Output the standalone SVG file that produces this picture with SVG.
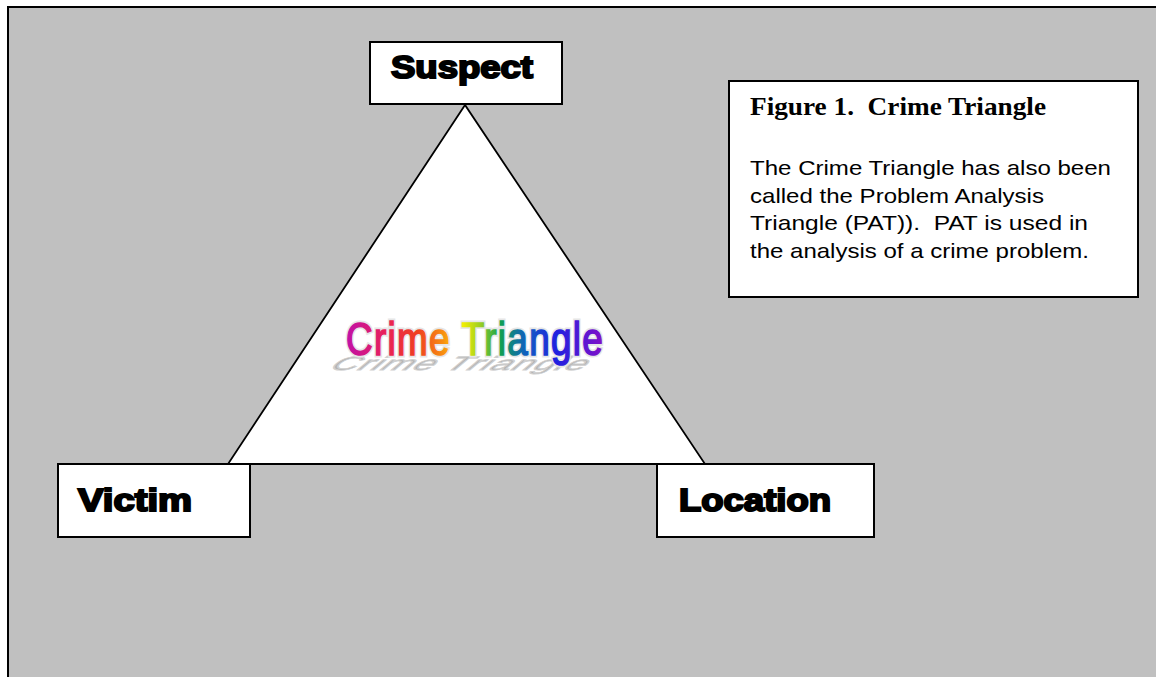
<svg xmlns="http://www.w3.org/2000/svg" width="1156" height="677" viewBox="0 0 1156 677">
<defs>
<linearGradient id="rainbow" x1="0" y1="0" x2="321" y2="0" gradientUnits="userSpaceOnUse">
<stop offset="0" stop-color="#c010a8"/>
<stop offset="0.15" stop-color="#e8205a"/>
<stop offset="0.28" stop-color="#f04020"/>
<stop offset="0.38" stop-color="#f89010"/>
<stop offset="0.45" stop-color="#f8f000"/>
<stop offset="0.52" stop-color="#a0d020"/>
<stop offset="0.6" stop-color="#10a050"/>
<stop offset="0.7" stop-color="#1060c0"/>
<stop offset="0.82" stop-color="#2020e0"/>
<stop offset="1" stop-color="#8010c8"/>
</linearGradient>
<style>
.box{fill:#fff;stroke:#000;stroke-width:2}
.lbl{font-family:"Liberation Sans",Arial,sans-serif;font-weight:bold;font-size:31px;fill:#000;stroke:#000;stroke-width:2}
.body{font-family:"Liberation Sans",Arial,sans-serif;font-size:21px;fill:#000}
.title{font-family:"Liberation Serif","Times New Roman",serif;font-weight:bold;font-size:25px;fill:#000}
.wa{font-family:"Liberation Sans",Arial,sans-serif;font-size:46px}
</style>
</defs>
<rect x="8" y="7" width="1160" height="680" fill="#c0c0c0" stroke="#000" stroke-width="2"/>
<g id="connectors">
<polygon points="465,105 228,464 705,464" fill="#fff" stroke="#000" stroke-width="1.8"/>
</g>
<g id="wordart">
<text class="wa" x="0" y="0" transform="translate(327,370) skewX(-50) scale(0.8,0.42)" fill="#b4b4b4" stroke="#d0d0d0" stroke-width="2" textLength="318" lengthAdjust="spacing">Crime Triangle</text>
<g transform="translate(346,355) scale(0.8,1)">
<text class="wa" x="0" y="0" fill="url(#rainbow)" stroke="#e6e6e6" stroke-width="5" paint-order="stroke" textLength="321" lengthAdjust="spacing">Crime Triangle</text>
<text class="wa" x="0" y="0" fill="none" stroke="url(#rainbow)" stroke-width="1.6" textLength="321" lengthAdjust="spacing">Crime Triangle</text>
</g>
</g>
<g id="suspect">
<rect class="box" x="370" y="42" width="192" height="62"/>
<text class="lbl" x="391" y="78" textLength="142" lengthAdjust="spacingAndGlyphs">Suspect</text>
</g>
<g id="victim">
<rect class="box" x="58" y="464" width="192" height="73"/>
<text class="lbl" x="78" y="511" textLength="114" lengthAdjust="spacingAndGlyphs">Victim</text>
</g>
<g id="location">
<rect class="box" x="657" y="464" width="217" height="73"/>
<text class="lbl" x="679" y="511" textLength="152" lengthAdjust="spacingAndGlyphs">Location</text>
</g>
<g id="figure">
<rect class="box" x="729" y="81" width="409" height="216"/>
<text class="title" x="750" y="115" xml:space="preserve" textLength="296" lengthAdjust="spacingAndGlyphs">Figure 1.  Crime Triangle</text>
<text class="body" x="750" y="175" textLength="361" lengthAdjust="spacingAndGlyphs">The Crime Triangle has also been</text>
<text class="body" x="750" y="203" textLength="294" lengthAdjust="spacingAndGlyphs">called the Problem Analysis</text>
<text class="body" x="750" y="230" xml:space="preserve" textLength="338" lengthAdjust="spacingAndGlyphs">Triangle (PAT)).  PAT is used in</text>
<text class="body" x="750" y="258" textLength="339" lengthAdjust="spacingAndGlyphs">the analysis of a crime problem.</text>
</g>
</svg>
